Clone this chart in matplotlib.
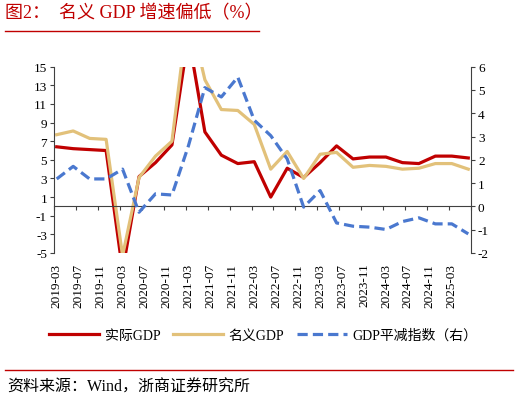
import numpy as np
import pandas as pd
import matplotlib
matplotlib.use('Agg')
import matplotlib.pyplot as plt

plt.rcParams['font.family'] = ['Liberation Serif', 'Noto Sans CJK SC']
plt.rcParams['axes.unicode_minus'] = False

# quarterly data, 2019Q1 - 2025Q2 (quarter-end months)
quarters = pd.date_range('2019-03-01', periods=26, freq='3MS')
real_gdp = [6.4, 6.2, 6.1, 6.0, -6.9, 3.2, 4.7, 6.6, 18.3, 8.0, 5.5, 4.6, 4.8, 1.0,
            4.1, 3.1, 4.7, 6.5, 5.1, 5.3, 5.3, 4.7, 4.6, 5.4, 5.4, 5.2]
nominal_gdp = [7.7, 8.1, 7.3, 7.2, -5.3, 3.1, 5.4, 7.0, 21.2, 13.6, 10.4, 10.3, 8.8, 4.0,
               5.9, 3.0, 5.6, 5.8, 4.2, 4.4, 4.3, 4.0, 4.1, 4.6, 4.6, 4.0]
deflator = [1.18, 1.72, 1.18, 1.18, 1.6, -0.25, 0.54, 0.49, 2.6, 5.1, 4.7, 5.55, 3.7, 3.04,
            2.04, -0.03, 0.68, -0.71, -0.85, -0.89, -0.99, -0.65, -0.49, -0.75, -0.75, -1.18]

tick_labels = ['2019-03', '2019-07', '2019-11', '2020-03', '2020-07', '2020-11', '2021-03',
               '2021-07', '2021-11', '2022-03', '2022-07', '2022-11', '2023-03', '2023-07',
               '2023-11', '2024-03', '2024-07', '2024-11', '2025-03']

red = '#C00000'
gold = '#E2C17A'
blue = '#4A78CF'

# month index on a monthly date axis, 2019-03 = 0
x = (quarters.year - 2019) * 12 + quarters.month - 3
lab_x = np.arange(len(tick_labels)) * 4

fig = plt.figure(figsize=(5.2, 4.02), dpi=100)
ax = fig.add_axes([0.1038, 0.3682, 0.802, 0.4634])
ax2 = ax.twinx()

l1, = ax.plot(x, real_gdp, color=red, lw=2.3, label='实际GDP')
l2, = ax.plot(x, nominal_gdp, color=gold, lw=2.3, label='名义GDP')
l3, = ax2.plot(x, deflator, color=blue, lw=2.3, dashes=(3.2, 1.6), label='GDP平减指数（右）')

ax.set_xlim(-0.5, 75.5)
ax.set_ylim(-5, 15)
ax.set_yticks(np.arange(-5, 16, 2))
ax2.set_ylim(-2, 6)
ax2.set_yticks(np.arange(-2, 7, 1))

for a in (ax, ax2):
    a.spines['top'].set_visible(False)
ax.spines['right'].set_visible(False)
ax2.spines['left'].set_visible(False)
ax2.spines['bottom'].set_visible(False)
ax.spines['bottom'].set_position(('data', 0))
for s in ['left', 'bottom']:
    ax.spines[s].set_color('#404040')
ax2.spines['right'].set_color('#404040')

ax.set_xticks(np.arange(-0.5, 76, 4))
ax.tick_params(axis='x', labelbottom=False, direction='out', length=3, color='#404040')
ax.tick_params(axis='y', labelsize=9.5, length=3, color='#404040', pad=2)
ax2.tick_params(axis='y', labelsize=9.5, length=3, color='#404040', pad=2)

sec = ax.secondary_xaxis('bottom')
sec.set_xticks(lab_x, tick_labels, rotation=90)
sec.tick_params(length=0, labelsize=9.5, pad=7)
sec.spines['bottom'].set_visible(False)

fig.legend([l1, l2, l3], [l1.get_label(), l2.get_label(), l3.get_label()],
           loc='center', bbox_to_anchor=(0.506, 0.164), ncol=3, frameon=False,
           fontsize=10, handlelength=3.6, handletextpad=0.4, columnspacing=0.9)

# title and source
fig.text(0.01, 0.965, '图2：  名义 GDP 增速偏低（%）', color=red, fontsize=13,
         va='center', ha='left')
fig.add_artist(plt.Line2D([0.0096, 0.498], [0.921, 0.921], color=red, lw=1))
fig.add_artist(plt.Line2D([0.0096, 0.987], [0.077, 0.077], color=red, lw=1))
fig.text(0.013, 0.035, '资料来源：Wind，浙商证券研究所', fontsize=11.5, va='center', ha='left')

fig.savefig('out.png', dpi=100)
